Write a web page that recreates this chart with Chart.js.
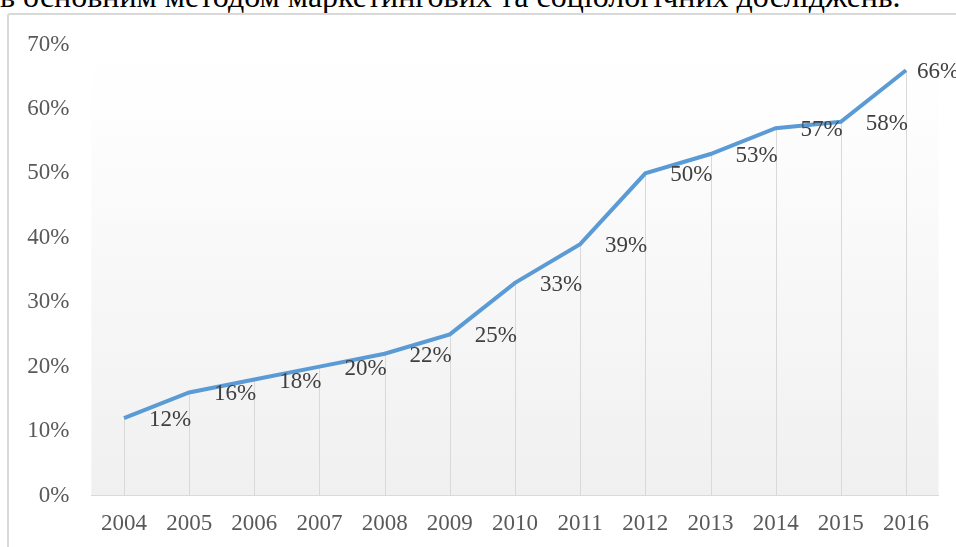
<!DOCTYPE html>
<html lang="uk">
<head>
<meta charset="utf-8">
<script src="https://cdn.jsdelivr.net/npm/chart.js@4.4.0/dist/chart.umd.min.js"></script>
<style>
  html, body { margin: 0; padding: 0; background: #fff; overflow: hidden; }
  body { width: 956px; height: 547px; position: relative; }
  .caption {
    position: absolute; left: 0; top: -22px; white-space: nowrap;
    font-family: 'Liberation Serif', 'Times New Roman', serif;
    font-size: 32px; color: #000; line-height: 36px;
  }
  .frame {
    position: absolute; left: 7px; top: 13px; width: 980px; height: 560px;
    border: 2px solid #d9d9d9; border-radius: 3px; box-sizing: border-box;
  }
  #wrap { position: absolute; left: 0; top: 0; width: 956px; height: 547px; }
</style>
</head>
<body>
<div class="caption">в основним методом маркетингових та соціологічних досліджень.</div>
<div class="frame"></div>
<div id="wrap"><canvas id="shareChart"></canvas></div>
<script>
const years = ['2004', '2005', '2006', '2007', '2008', '2009', '2010', '2011', '2012', '2013', '2014', '2015', '2016']
const shares = [12, 16, 18, 20, 22, 25, 33, 39, 50, 53, 57, 58, 66]
const yTicks = [0, 10, 20, 30, 40, 50, 60, 70]

const serif = "'Liberation Serif', 'Times New Roman', serif"

// plot area: white at the top fading into light grey at the bottom
const plotBackground = {
  id: 'plotBackground',
  beforeDraw (chart) {
    const { ctx, chartArea: { left, top, right, bottom } } = chart
    const grad = ctx.createLinearGradient(0, top, 0, bottom)
    grad.addColorStop(0, '#ffffff')
    grad.addColorStop(0.12, '#fefefe')
    grad.addColorStop(1, '#f0f0f0')
    ctx.save()
    ctx.fillStyle = grad
    ctx.fillRect(left, top, right - left, bottom - top)
    ctx.restore()
  }
}

// thin grey drop lines from each point down to the x axis
const dropLines = {
  id: 'dropLines',
  beforeDatasetsDraw (chart) {
    const { ctx } = chart
    const yScale = chart.scales.y
    const pts = chart.getDatasetMeta(0).data
    ctx.save()
    ctx.strokeStyle = '#d9d9d9'
    ctx.lineWidth = 1
    pts.forEach(p => {
      const x = Math.round(p.x) + 0.5
      ctx.beginPath()
      ctx.moveTo(x, p.y)
      ctx.lineTo(x, yScale.bottom)
      ctx.stroke()
    })
    ctx.restore()
  }
}

// value labels to the right of every point
const valueLabels = {
  id: 'valueLabels',
  afterDatasetsDraw (chart) {
    const { ctx } = chart
    const pts = chart.getDatasetMeta(0).data
    const values = chart.data.datasets[0].data
    ctx.save()
    ctx.font = `23px ${serif}`
    ctx.fillStyle = '#404040'
    ctx.textAlign = 'center'
    ctx.textBaseline = 'middle'
    pts.forEach((p, i) => {
      const dx = i === pts.length - 1 ? 32 : 46
      ctx.fillText(`${values[i]}%`, p.x + dx, p.y + 2)
    })
    ctx.restore()
  }
}

new Chart(document.getElementById('shareChart'), {
  type: 'line',
  plugins: [plotBackground, dropLines, valueLabels],
  data: {
    labels: years,
    datasets: [
      {
        data: shares,
        borderColor: '#5b9bd5',
        borderWidth: 4,
        pointRadius: 0,
        tension: 0,
        fill: false
      }
    ]
  },
  options: {
    responsive: true,
    maintainAspectRatio: false,
    animation: false,
    layout: { padding: { left: 0, right: 17.4, top: 44.5, bottom: 0 } },
    plugins: { legend: { display: false }, tooltip: { enabled: false } },
    scales: {
      x: {
        offset: true,
        grid: { display: false, drawTicks: false },
        border: { display: true, color: '#d9d9d9', width: 1 },
        ticks: {
          color: '#595959',
          font: { family: serif, size: 23 },
          padding: 15,
          maxRotation: 0,
          autoSkip: false
        },
        afterFit (scale) { scale.height = 51.5 }
      },
      y: {
        min: 0,
        max: 70,
        afterBuildTicks (scale) { scale.ticks = yTicks.map(v => ({ value: v })) },
        grid: { display: false, drawTicks: false },
        border: { display: false },
        ticks: {
          color: '#595959',
          font: { family: serif, size: 23 },
          padding: 22,
          callback: v => `${v}%`
        },
        afterFit (scale) { scale.width = 91.4 }
      }
    }
  }
})
</script>
</body>
</html>
